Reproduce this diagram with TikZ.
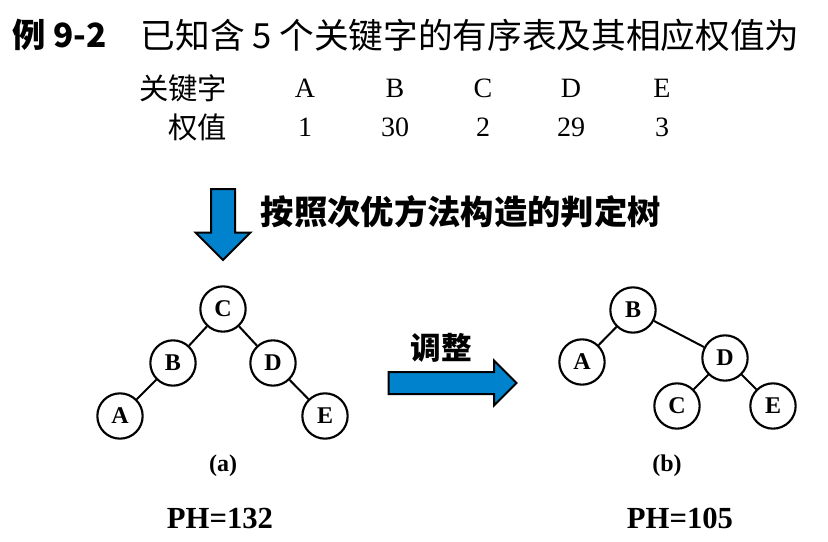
\documentclass[tikz,border=0pt]{standalone}
\usepackage{fontspec}
\usepackage{xcolor}
\usetikzlibrary{positioning, shapes.arrows}
\setmainfont{Liberation Serif}
\newfontfamily\cjk{Noto Sans CJK SC}
\definecolor{arrblue}{RGB}{0, 130, 204}

\begin{document}
\begin{tikzpicture}[
    x=0.75pt, y=-0.75pt,
    vtx/.style={
        circle,
        draw,
        line width=1.6pt,
        minimum size=34pt,
        inner sep=0pt,
        font=\fontsize{18}{18}\selectfont\bfseries
    },
    edge/.style={line width=1.5pt},
    blockarrow/.style={
        single arrow,
        draw,
        fill=arrblue,
        line width=1.5pt,
        single arrow tip angle=90,
        inner sep=#1
    },
    keylbl/.style={font=\cjk\fontsize{22}{24}\selectfont, anchor=east},
    cell/.style={font=\fontsize{21}{24}\selectfont},
    steplbl/.style={font=\cjk\bfseries\fontsize{25}{28}\selectfont},
    caption/.style={font=\bfseries\fontsize{18}{20}\selectfont},
    ph/.style={font=\bfseries\fontsize{23}{26}\selectfont}
]
\useasboundingbox (0,0) rectangle (828,542);

% === Title ===
\node[anchor=west, font=\cjk\bfseries\fontsize{25}{28}\selectfont] (ex) at (8,35) {例 9-2};
\node[anchor=west, font=\cjk\fontsize{26}{28}\selectfont] (title) at (136,35) {已知含 5 个关键字的有序表及其相应权值为};

% === Table ===
\node[keylbl] (key) at (232,88) {关键字};
\node[keylbl] (wt) at (232,127) {权值};
\node[cell] (kA) at (305,88) {A};
\node[cell] (kB) at (395,88) {B};
\node[cell] (kC) at (483,88) {C};
\node[cell] (kD) at (571,88) {D};
\node[cell] (kE) at (662,88) {E};
\node[cell] (wA) at (305,127) {1};
\node[cell] (wB) at (395,127) {30};
\node[cell] (wC) at (483,127) {2};
\node[cell] (wD) at (571,127) {29};
\node[cell] (wE) at (662,127) {3};

% === Construction step ===
\node[blockarrow=8.25pt, shape border rotate=270, minimum height=53.25pt,
      single arrow head extend=11.6pt] (down) at (223,218.5) {};
\node[steplbl, anchor=west] (build) at (256,212) {按照次优方法构造的判定树};

% === Tree (a) ===
\node[vtx] (aC) at (223,309) {C};
\node[vtx] (aB) at (173,363) {B};
\node[vtx] (aD) at (273,363) {D};
\node[vtx] (aA) at (120,416) {A};
\node[vtx] (aE) at (325,416) {E};
\draw[edge] (aC) -- (aB);
\draw[edge] (aC) -- (aD);
\draw[edge] (aB) -- (aA);
\draw[edge] (aD) -- (aE);
\node[caption] (capa) at (223,466) {(a)};
\node[ph] (pha) at (220,518) {PH=132};

% === Adjust step ===
\node[blockarrow=7.5pt, minimum height=96pt,
      single arrow head extend=8.6pt] (right) at (447,383) {};
\node[steplbl, font=\cjk\bfseries\fontsize{23}{26}\selectfont] (adjust) at (441,348) {调整};

% === Tree (b) ===
\node[vtx] (bB) at (633,310) {B};
\node[vtx] (bA) at (582,362) {A};
\node[vtx] (bD) at (725,358) {D};
\node[vtx] (bC) at (677,406) {C};
\node[vtx] (bE) at (773,406) {E};
\draw[edge] (bB) -- (bA);
\draw[edge] (bB) -- (bD);
\draw[edge] (bD) -- (bC);
\draw[edge] (bD) -- (bE);
\node[caption] (capb) at (667,466) {(b)};
\node[ph] (phb) at (680,518) {PH=105};

\end{tikzpicture}
\end{document}
